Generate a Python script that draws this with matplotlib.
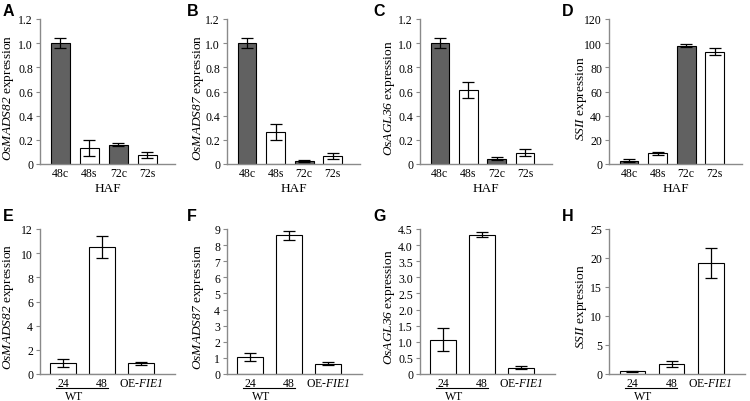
import matplotlib
matplotlib.use("Agg")
import matplotlib.pyplot as plt

plt.rcParams['font.family'] = 'Liberation Serif'
plt.rcParams['mathtext.fontset'] = 'custom'
plt.rcParams['mathtext.rm'] = 'Liberation Serif:italic'
plt.rcParams['mathtext.it'] = 'Liberation Serif:italic'

# top row (HAF)
haf_labels = ['48c', '48s', '72c', '72s']
haf_colors = ['#616161', 'white', '#616161', 'white']
a_vals = [1.0, 0.135, 0.16, 0.075]
a_err = [0.04, 0.065, 0.012, 0.025]
b_vals = [1.0, 0.265, 0.025, 0.07]
b_err = [0.04, 0.063, 0.008, 0.025]
c_vals = [1.0, 0.615, 0.045, 0.095]
c_err = [0.04, 0.065, 0.015, 0.027]
d_vals = [2.8, 8.8, 98.0, 93.0]
d_err = [1.4, 1.5, 1.5, 2.7]

# bottom row (WT / OE-FIE1)
wt_labels = ['24', '48', r'OE-$FIE1$']
e_vals = [0.9, 10.5, 0.9]
e_err = [0.33, 0.88, 0.12]
f_vals = [1.05, 8.6, 0.63]
f_err = [0.25, 0.28, 0.1]
g_vals = [1.07, 4.32, 0.2]
g_err = [0.36, 0.08, 0.05]
h_vals = [0.45, 1.7, 19.2]
h_err = [0.12, 0.5, 2.6]

top_panels = [
    ('A', 'OsMADS82', a_vals, a_err, [0, 0.2, 0.4, 0.6, 0.8, 1.0, 1.2], ['0', '0.2', '0.4', '0.6', '0.8', '1.0', '1.2']),
    ('B', 'OsMADS87', b_vals, b_err, [0, 0.2, 0.4, 0.6, 0.8, 1.0, 1.2], ['0', '0.2', '0.4', '0.6', '0.8', '1.0', '1.2']),
    ('C', 'OsAGL36', c_vals, c_err, [0, 0.2, 0.4, 0.6, 0.8, 1.0, 1.2], ['0', '0.2', '0.4', '0.6', '0.8', '1.0', '1.2']),
    ('D', 'SSII', d_vals, d_err, [0, 20, 40, 60, 80, 100, 120], ['0', '20', '40', '60', '80', '100', '120']),
]
bottom_panels = [
    ('E', 'OsMADS82', e_vals, e_err, [0, 2, 4, 6, 8, 10, 12], ['0', '2', '4', '6', '8', '10', '12']),
    ('F', 'OsMADS87', f_vals, f_err, list(range(10)), [str(i) for i in range(10)]),
    ('G', 'OsAGL36', g_vals, g_err, [0, 0.5, 1.0, 1.5, 2.0, 2.5, 3.0, 3.5, 4.0, 4.5],
     ['0', '0.5', '1.0', '1.5', '2.0', '2.5', '3.0', '3.5', '4.0', '4.5']),
    ('H', 'SSII', h_vals, h_err, [0, 5, 10, 15, 20, 25], ['0', '5', '10', '15', '20', '25']),
]

W, H = 750, 402
fig = plt.figure(figsize=(7.5, 4.02), dpi=100)

top_lefts = [40, 227, 420, 609]
top_widths = [135, 133, 132, 133]
bot_lefts = [40, 227, 420, 609]
bot_widths = [135, 135, 135, 136]
letter_x = [3, 187, 373, 562]
label_off = [23.5, 21, 23, 20]   # px from y-axis to the y-label


def style(ax, ticks, ticklabels):
    for s in ['top', 'right']:
        ax.spines[s].set_visible(False)
    for s in ['left', 'bottom']:
        ax.spines[s].set_color('#8a8a8a')
        ax.spines[s].set_linewidth(1.0)
    ax.set_yticks(ticks)
    ax.set_yticklabels(ticklabels)
    ax.set_ylim(0, ticks[-1])
    ax.tick_params(axis='y', direction='out', length=3, color='#8a8a8a', labelsize=8.5, pad=2)
    ax.tick_params(axis='x', length=0, labelsize=8.5, pad=2)


for i, (letter, gene, vals, err, ticks, tl) in enumerate(top_panels):
    ax = fig.add_axes([top_lefts[i] / W, 1 - 165 / H, top_widths[i] / W, 145 / H])
    x = list(range(len(vals)))
    ax.bar(x, vals, width=0.66, color=haf_colors, edgecolor='black', linewidth=0.8,
           yerr=err, capsize=4, error_kw=dict(elinewidth=0.9, capthick=0.9, ecolor='black'))
    ax.set_xlim(-0.7, 3.95)
    ax.set_xticks(x)
    ax.set_xticklabels(haf_labels)
    style(ax, ticks, tl)
    ax.set_xlabel('HAF', fontsize=9.5, labelpad=2)
    ax.set_ylabel(r'$' + gene + '$ expression', fontsize=9.6)
    ax.yaxis.set_label_coords(-label_off[i] / top_widths[i], 0.46)
    fig.text(letter_x[i] / W, 1 - 4 / H, letter, fontsize=11.5, fontweight='bold',
             family='Liberation Sans', va='top', ha='left')

for i, (letter, gene, vals, err, ticks, tl) in enumerate(bottom_panels):
    ax = fig.add_axes([bot_lefts[i] / W, 1 - 375 / H, bot_widths[i] / W, 145 / H])
    x = list(range(len(vals)))
    ax.bar(x, vals, width=0.66, color='white', edgecolor='black', linewidth=0.8,
           yerr=err, capsize=4, error_kw=dict(elinewidth=0.9, capthick=0.9, ecolor='black'))
    ax.set_xlim(-0.6, 2.88)
    ax.set_xticks(x)
    ax.set_xticklabels(wt_labels)
    style(ax, ticks, tl)
    ax.set_ylabel(r'$' + gene + '$ expression', fontsize=9.6)
    ax.yaxis.set_label_coords(-label_off[i] / bot_widths[i], 0.47)
    # WT underline under the first two groups
    trans = ax.get_xaxis_transform()
    ax.plot([-0.2, 1.15], [-0.097, -0.097], color='black', linewidth=0.8,
            transform=trans, clip_on=False)
    ax.text(0.27, -0.152, 'WT', transform=trans, ha='center', va='center', fontsize=8.5)
    fig.text(letter_x[i] / W, 1 - 209 / H, letter, fontsize=11.5, fontweight='bold',
             family='Liberation Sans', va='top', ha='left')

fig.savefig('out.png', dpi=100, facecolor='white')
